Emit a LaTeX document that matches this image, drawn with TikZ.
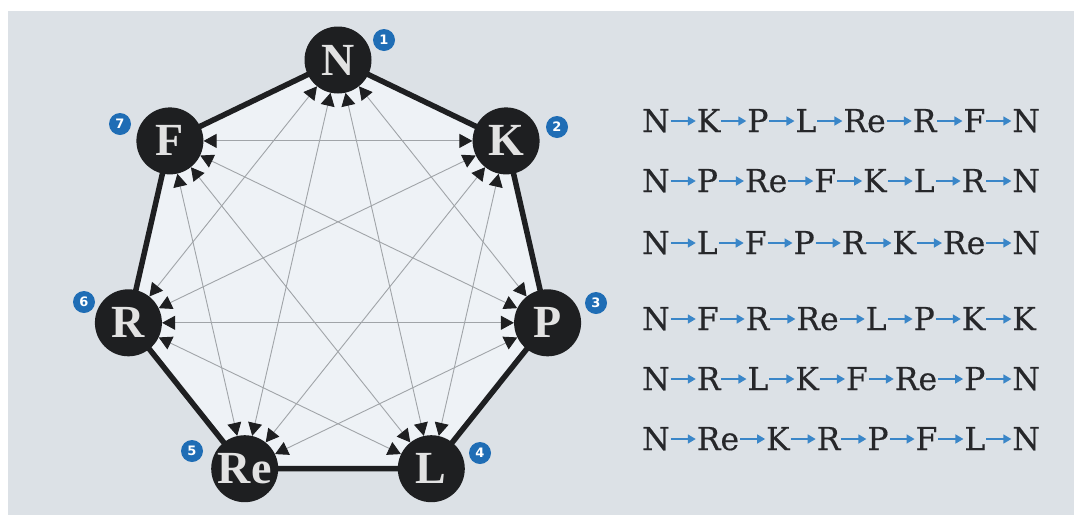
\documentclass[tikz,border=0pt]{standalone}
\usepackage{fontspec}
\setmainfont{DejaVu Serif}
\newfontfamily\routefont{DejaVu Serif}[FakeBold=0.35]
\newfontfamily\vertexfont{Liberation Serif}
\newfontfamily\badgefont{DejaVu Sans}
\usetikzlibrary{arrows.meta}

\definecolor{panel}{HTML}{DCE1E6}
\definecolor{innerfill}{HTML}{EEF2F6}
\definecolor{ink}{HTML}{1E1F21}
\definecolor{chord}{HTML}{A0A4A8}
\definecolor{badgeblue}{HTML}{1F6DB5}
\definecolor{arrowblue}{HTML}{3A86C8}
\definecolor{letter}{HTML}{E2E2E2}
\definecolor{rowtext}{HTML}{26272A}

\pgfdeclarelayer{back}
\pgfdeclarelayer{mid}
\pgfsetlayers{back,mid,main}

% blue arrow between route stops
\newcommand\nxt{\hspace{1pt}\tikz[baseline=-11pt]{%
  \useasboundingbox (0pt,-2pt) rectangle (25pt,2pt);
  \draw[draw=arrowblue,fill=arrowblue,line width=1.6pt,
    -{Triangle[length=8pt,width=9pt]}] (0pt,0pt) -- (25pt,0pt);}\hspace{1pt}}

\begin{document}
\begin{tikzpicture}[x=1pt,y=-1pt,
  vertex/.style={circle,fill=ink,minimum size=67pt,inner sep=0pt,
    font=\vertexfont\bfseries\fontsize{46}{46}\selectfont,text=letter},
  badge/.style={circle,fill=badgeblue,minimum size=22pt,inner sep=0pt,
    text=white,font=\badgefont\bfseries\fontsize{13}{13}\selectfont},
  rim/.style={line width=5.5pt,draw=ink,line join=miter},
  chordline/.style={draw=chord,line width=0.9pt,
    {Triangle[length=13pt,width=14pt,color=ink]}-{Triangle[length=13pt,width=14pt,color=ink]}},
  route/.style={anchor=base west,inner sep=0pt,text=rowtext,
    font=\routefont\fontsize{31.5}{31.5}\selectfont}]

\useasboundingbox (0,0) rectangle (1074,515);

% stations on a regular heptagon
\node[vertex] (v0) at (338,60)    {N};
\node[vertex] (v1) at (506.1,140.9) {K};
\node[vertex] (v2) at (547.6,322.8) {P};
\node[vertex] (v3) at (431.3,468.7) {L};
\node[vertex] (v4) at (244.7,468.7) {Re};
\node[vertex] (v5) at (128.4,322.8) {R};
\node[vertex] (v6) at (169.9,140.9) {F};

\begin{pgfonlayer}{back}
  \fill[white] (0,0) rectangle (1074,515);
  \fill[panel] (8,11) rectangle (1074,515);
\end{pgfonlayer}
\begin{pgfonlayer}{mid}
  \fill[innerfill] (v0.center) -- (v1.center) -- (v2.center) -- (v3.center)
    -- (v4.center) -- (v5.center) -- (v6.center) -- cycle;
  \draw[rim] (v0.center) -- (v1.center) -- (v2.center) -- (v3.center)
    -- (v4.center) -- (v5.center) -- (v6.center) -- cycle;
\end{pgfonlayer}

% all diagonals, arrowed at both ends
\foreach \i in {0,...,6}{
  \pgfmathtruncatemacro\j{mod(\i+2,7)}
  \pgfmathtruncatemacro\k{mod(\i+3,7)}
  \draw[chordline] (v\i) -- (v\j);
  \draw[chordline] (v\i) -- (v\k);
}

% numbered badges
\node[badge] (b1) at (384,40)  {1};
\node[badge] (b2) at (557,127) {2};
\node[badge] (b3) at (596,303) {3};
\node[badge] (b4) at (480,453) {4};
\node[badge] (b5) at (192,451) {5};
\node[badge] (b6) at (84,302)  {6};
\node[badge] (b7) at (120,124) {7};

% routes
\node[route] (r1) at (642,132) {N\nxt K\nxt P\nxt L\nxt Re\nxt R\nxt F\nxt N};
\node[route] (r2) at (642,192) {N\nxt P\nxt Re\nxt F\nxt K\nxt L\nxt R\nxt N};
\node[route] (r3) at (642,254) {N\nxt L\nxt F\nxt P\nxt R\nxt K\nxt Re\nxt N};
\node[route] (r4) at (642,330) {N\nxt F\nxt R\nxt Re\nxt L\nxt P\nxt K\nxt K};
\node[route] (r5) at (642,390) {N\nxt R\nxt L\nxt K\nxt F\nxt Re\nxt P\nxt N};
\node[route] (r6) at (642,450) {N\nxt Re\nxt K\nxt R\nxt P\nxt F\nxt L\nxt N};
\end{tikzpicture}
\end{document}
